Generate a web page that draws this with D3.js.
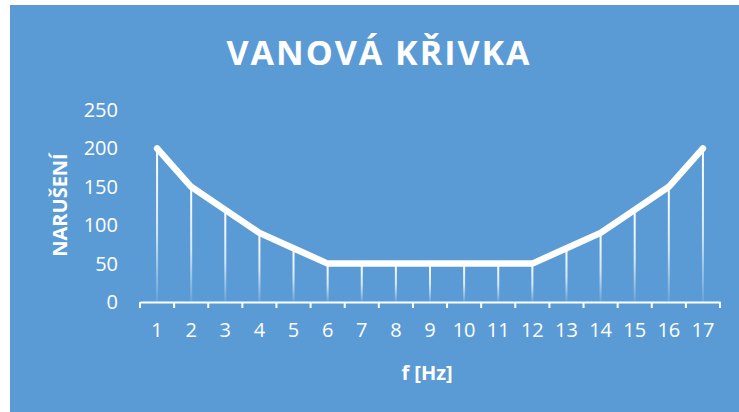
<!DOCTYPE html>
<html>
<head>
<meta charset="utf-8">
<script src="https://cdn.jsdelivr.net/npm/d3@7"></script>
<style>
  body { margin: 0; background: #fff; }
  svg text { font-family: "Open Sans", "Liberation Sans", sans-serif; fill: #fff; }
</style>
</head>
<body>
<svg id="canvas"></svg>
<script>
const categories = ["1","2","3","4","5","6","7","8","9","10","11","12","13","14","15","16","17"];
const values = [200,150,120,90,70,50,50,50,50,50,50,50,70,90,120,150,200];
const yTicks = [0,50,100,150,200,250];
const title = "VANOVÁ KŘIVKA";
const xTitle = "f [Hz]";
const yTitle = "NARUŠENÍ";

const width = 739;
const height = 412;
const margin = { top: 110, right: 19, bottom: 110, left: 140 };

const svg = d3.select("#canvas")
  .attr("width", width)
  .attr("height", height);

// background panel
svg.append("rect")
  .attr("x", 10).attr("y", 5)
  .attr("width", width - 10).attr("height", height - 5)
  .attr("fill", "#5b9bd5");

const defs = svg.append("defs");
const grad = defs.append("linearGradient")
  .attr("id", "drop")
  .attr("x1", 0).attr("y1", 0).attr("x2", 0).attr("y2", 1);
grad.append("stop").attr("offset", "0%").attr("stop-color", "#fff").attr("stop-opacity", 1);
grad.append("stop").attr("offset", "55%").attr("stop-color", "#fff").attr("stop-opacity", 0.75);
grad.append("stop").attr("offset", "100%").attr("stop-color", "#fff").attr("stop-opacity", 0.08);

const chartArea = svg.append("g")
  .attr("transform", `translate(${margin.left},0)`);

const chartWidth = width - margin.left - margin.right;

const x = d3.scaleBand()
  .domain(categories)
  .range([0, chartWidth]);

const y = d3.scaleLinear()
  .domain([0, 250])
  .range([302, 110]);

// drop lines
chartArea.selectAll(".drop")
  .data(values)
  .enter().append("rect")
  .attr("class", "drop")
  .attr("x", (d, i) => x(categories[i]) + x.bandwidth() / 2 - 1)
  .attr("y", d => y(d))
  .attr("width", 2)
  .attr("height", d => y(0) - y(d))
  .attr("fill", "url(#drop)");

// line
const line = d3.line()
  .x((d, i) => x(categories[i]) + x.bandwidth() / 2)
  .y(d => y(d));

chartArea.append("path")
  .datum(values)
  .attr("d", line)
  .attr("fill", "none")
  .attr("stroke", "#fff")
  .attr("stroke-width", 6.5)
  .attr("stroke-linejoin", "round")
  .attr("stroke-linecap", "round");

// x axis
const xAxis = chartArea.append("g")
  .attr("transform", `translate(0, ${y(0)})`)
  .call(d3.axisBottom(x).tickSize(0).tickPadding(21));
xAxis.select(".domain").attr("stroke", "#fff").attr("stroke-width", 2);
xAxis.selectAll("text").attr("font-size", 20).attr("fill", "#fff");

// ticks at category boundaries
chartArea.append("g")
  .selectAll("line")
  .data(d3.range(categories.length + 1))
  .enter().append("line")
  .attr("x1", i => i * x.step())
  .attr("x2", i => i * x.step())
  .attr("y1", y(0))
  .attr("y2", y(0) + 6)
  .attr("stroke", "#fff")
  .attr("stroke-width", 2);

// y axis labels
chartArea.append("g")
  .selectAll("text")
  .data(yTicks)
  .enter().append("text")
  .attr("x", -22)
  .attr("y", d => y(d))
  .attr("dy", "0.35em")
  .attr("text-anchor", "end")
  .attr("font-size", 20)
  .text(d => d);

// titles
svg.append("text")
  .attr("x", 379)
  .attr("y", 65)
  .attr("text-anchor", "middle")
  .attr("font-size", 34)
  .attr("font-weight", "bold")
  .attr("letter-spacing", 2)
  .text(title);

svg.append("text")
  .attr("x", 427)
  .attr("y", 380)
  .attr("text-anchor", "middle")
  .attr("font-size", 20)
  .attr("font-weight", "bold")
  .text(xTitle);

svg.append("text")
  .attr("transform", "translate(67, 205) rotate(-90)")
  .attr("text-anchor", "middle")
  .attr("font-size", 20)
  .attr("font-weight", "bold")
  .text(yTitle);
</script>
</body>
</html>
